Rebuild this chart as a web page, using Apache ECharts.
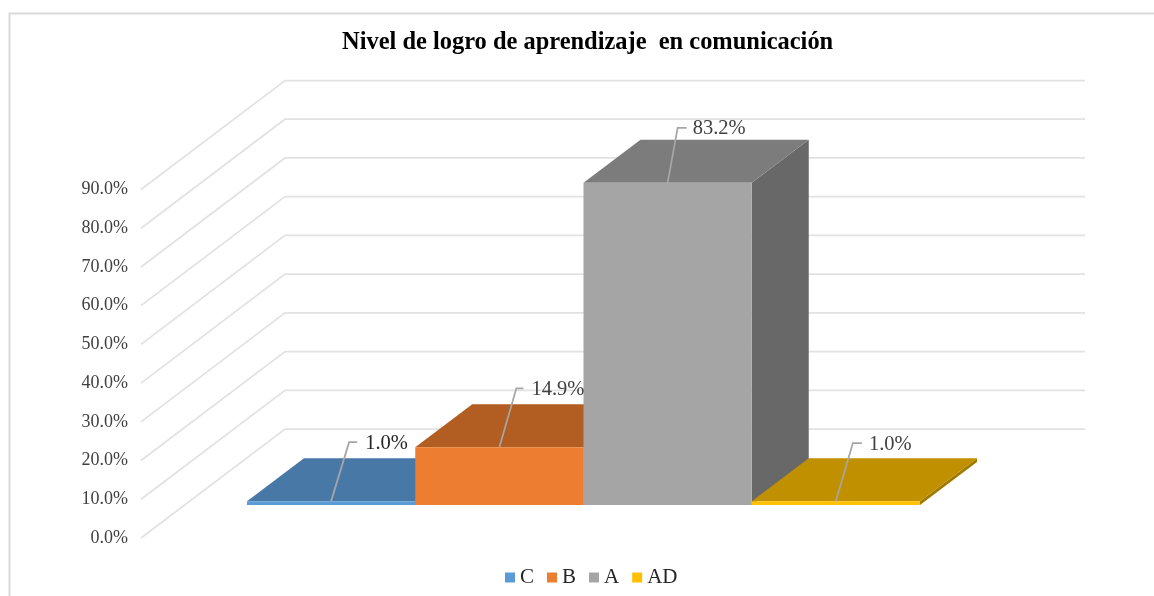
<!DOCTYPE html>
<html>
<head>
<meta charset="utf-8">
<style>html,body{margin:0;padding:0;background:#fff}#c{width:1154px;height:596px}</style>
<script src="https://cdn.jsdelivr.net/npm/echarts@6/dist/echarts.min.js"></script>
</head>
<body>
<div id="c"></div>
<script>
var categories = ['C', 'B', 'A', 'AD'];
var values = [1.0, 14.9, 83.2, 1.0];
var yTicks = [0, 10, 20, 30, 40, 50, 60, 70, 80, 90];
var titleText = 'Nivel de logro de aprendizaje  en comunicación';

var frontColors = ['#5B9BD5', '#ED7D31', '#A5A5A5', '#FFC000'];
var topColors = ['#4878A5', '#B25D22', '#7C7C7C', '#C09000'];
var sideColors = ['#3F6A92', '#96501E', '#686868', '#A07A00'];
var labelColors = ['#262626', '#404040', '#404040', '#404040'];
var leaderOffsets = [[18, -59, 26, 34], [17, -59, 24, 32], [10, -55, 19, 25], [17, -58, 26, 33]];

var FONT = '"Liberation Serif", serif';
var BAR_DEPTH = [57, -43];
var WALL_DEPTH = [144, -109];

function fmt(v) { return v.toFixed(1) + '%'; }

function wallLine(params, api) {
  var a = api.coord([0, api.value(0)]);
  var b = api.coord([1, api.value(0)]);
  return {
    type: 'polyline',
    shape: { points: [a, [a[0] + WALL_DEPTH[0], a[1] + WALL_DEPTH[1]], [b[0] + WALL_DEPTH[0], b[1] + WALL_DEPTH[1]]] },
    style: { stroke: '#E2E2E2', lineWidth: 1.75, fill: null },
    silent: true
  };
}

function barRenderer(i) {
  return function (params, api) {
    var top = api.coord([api.value(0), api.value(1)]);
    var base = api.coord([api.value(0), 0]);
    var w = api.size([1, 0])[0];
    var l = top[0] - w / 2, r = top[0] + w / 2;
    var dx = BAR_DEPTH[0], dy = BAR_DEPTH[1];
    var off = leaderOffsets[i];
    return {
      type: 'group',
      children: [
        { type: 'polygon', shape: { points: [[r, top[1]], [r + dx, top[1] + dy], [r + dx, base[1] + dy], [r, base[1]]] }, style: { fill: sideColors[i] } },
        { type: 'polygon', shape: { points: [[l, top[1]], [l + dx, top[1] + dy], [r + dx, top[1] + dy], [r, top[1]]] }, style: { fill: topColors[i] } },
        { type: 'rect', shape: { x: l, y: top[1], width: w, height: base[1] - top[1] }, style: { fill: frontColors[i] } },
        { type: 'polyline', z2: 50, shape: { points: [[top[0], top[1]], [top[0] + off[0], top[1] + off[1]], [top[0] + off[2], top[1] + off[1]]] }, style: { stroke: '#A6A6A6', lineWidth: 1.75, fill: null } },
        { type: 'text', z2: 51, style: { x: top[0] + off[3], y: top[1] + off[1] + 1, text: fmt(api.value(1)), fill: labelColors[i], font: '20.5px ' + FONT, textAlign: 'left', textVerticalAlign: 'middle' } }
      ]
    };
  };
}

var series = [{
  name: 'wall',
  type: 'custom',
  xAxisIndex: 0,
  yAxisIndex: 0,
  silent: true,
  renderItem: wallLine,
  encode: { y: 0 },
  data: yTicks.map(function (t) { return [t]; })
}];
categories.forEach(function (c, i) {
  series.push({
    name: c,
    type: 'custom',
    xAxisIndex: 1,
    yAxisIndex: 1,
    silent: true,
    itemStyle: { color: frontColors[i] },
    renderItem: barRenderer(i),
    encode: { x: 0, y: 1 },
    data: [[c, values[i]]]
  });
});

var chart = echarts.init(document.getElementById('c'), null, { renderer: 'canvas' });
chart.setOption({
  animation: false,
  backgroundColor: '#fff',
  title: {
    text: titleText,
    left: 337,
    top: 26,
    textStyle: { fontFamily: FONT, fontWeight: 'bold', fontSize: 24.45, color: '#000' }
  },
  legend: {
    data: categories,
    left: 500,
    top: 562,
    itemWidth: 10,
    itemHeight: 10,
    itemGap: 13,
    icon: 'rect',
    selectedMode: false,
    textStyle: { fontFamily: FONT, fontSize: 21, color: '#262626' }
  },
  graphic: [{
    type: 'polyline',
    silent: true,
    shape: { points: [[9.5, 596], [9.5, 13.5], [1154, 13.5]] },
    style: { stroke: '#D9D9D9', lineWidth: 2, fill: null }
  }],
  grid: [
    { left: 141, top: 189.5, width: 800, height: 348.5 },
    { left: 247, top: 156.5, width: 673, height: 348.5 }
  ],
  xAxis: [
    { type: 'value', gridIndex: 0, min: 0, max: 1, show: false },
    { type: 'category', gridIndex: 1, data: categories, show: false }
  ],
  yAxis: [
    {
      type: 'value', gridIndex: 0, min: 0, max: 90, interval: 10,
      axisLine: { show: false }, axisTick: { show: false }, splitLine: { show: false },
      axisLabel: { formatter: fmt, fontFamily: FONT, fontSize: 18, color: '#404040', margin: 13 }
    },
    { type: 'value', gridIndex: 1, min: 0, max: 90, interval: 10, show: false }
  ],
  series: series
});
</script>
</body>
</html>
